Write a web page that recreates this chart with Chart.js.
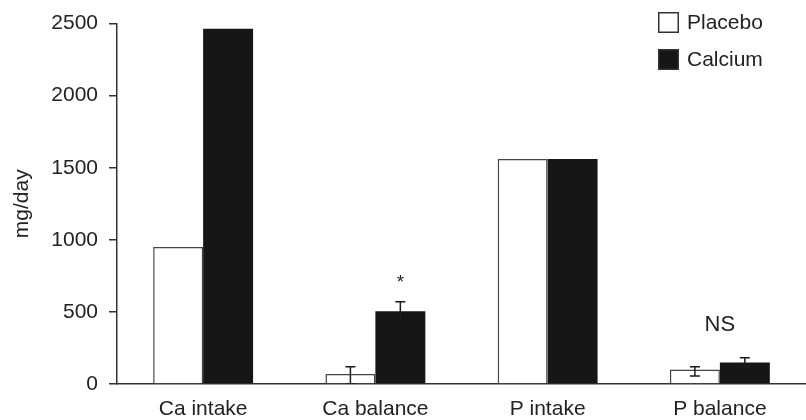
<!DOCTYPE html>
<html>
<head>
<meta charset="utf-8">
<script src="https://cdn.jsdelivr.net/npm/chart.js@4.4.1/dist/chart.umd.min.js"></script>
<style>
  html, body { margin: 0; padding: 0; background: #fff; }
  #wrap { width: 806px; height: 420px; }
</style>
</head>
<body>
<div id="wrap"><canvas id="grafico"></canvas></div>
<script>
// mean intake / balance per group (mg/day)
const categorias = ['Ca intake', 'Ca balance', 'P intake', 'P balance'];
const placebo = [950, 70, 1560, 100];
const calcium = [2465, 505, 1560, 150];

// error bar ends, null where no bar is drawn
const placeboBaixo = [null, 0, null, 55];
const placeboAlto = [null, 120, null, 120];
const calciumBaixo = [null, 440, null, 120];
const calciumAlto = [null, 570, null, 182];

const yTicks = [0, 500, 1000, 1500, 2000, 2500];

// significance marks: text, which bar (or group) it sits over
const marcas = [
    {cat: 1, texto: '*', serie: 1, valor: 705, tamanho: 19},
    {cat: 3, texto: 'NS', serie: null, valor: 410, tamanho: 22}
];

const fonte = '"Liberation Sans", Arial, Helvetica, sans-serif';
const corTexto = '#222';
const corLinha = '#333';

const errorBars = {
    id: 'errorBars',
    afterDatasetsDraw(chart) {
        const ctx = chart.ctx;
        const y = chart.scales.y;
        const ends = [[placeboBaixo, placeboAlto], [calciumBaixo, calciumAlto]];
        ctx.save();
        ctx.beginPath();
        ctx.rect(chart.chartArea.left, chart.chartArea.top, chart.chartArea.width, chart.chartArea.height);
        ctx.clip();
        ctx.strokeStyle = '#1a1a1a';
        ctx.lineWidth = 1.5;
        ends.forEach((par, ds) => {
            const meta = chart.getDatasetMeta(ds);
            meta.data.forEach((bar, i) => {
                if (par[0][i] == null) return;
                const x = bar.x;
                const y0 = y.getPixelForValue(par[0][i]);
                const y1 = y.getPixelForValue(par[1][i]);
                ctx.beginPath();
                ctx.moveTo(x, y0); ctx.lineTo(x, y1);
                ctx.moveTo(x - 5, y1); ctx.lineTo(x + 5, y1);
                ctx.moveTo(x - 5, y0); ctx.lineTo(x + 5, y0);
                ctx.stroke();
            });
        });
        ctx.restore();

        // significance labels
        ctx.save();
        ctx.fillStyle = corTexto;
        ctx.textAlign = 'center';
        ctx.textBaseline = 'middle';
        marcas.forEach(m => {
            let x = chart.scales.x.getPixelForValue(m.cat);
            if (m.serie != null) x = chart.getDatasetMeta(m.serie).data[m.cat].x;
            ctx.font = m.tamanho + 'px ' + fonte;
            ctx.fillText(m.texto, x, y.getPixelForValue(m.valor));
        });
        ctx.restore();
    }
};

const legenda = {
    id: 'legenda',
    afterDraw(chart) {
        const ctx = chart.ctx;
        ctx.save();
        ctx.font = '21px ' + fonte;
        ctx.textBaseline = 'middle';
        chart.data.datasets.forEach((ds, i) => {
            const top = 12 + i * 37;
            ctx.fillStyle = ds.backgroundColor;
            ctx.fillRect(658, top, 21, 21);
            ctx.strokeStyle = corLinha;
            ctx.lineWidth = 1.5;
            ctx.strokeRect(658.75, top + 0.75, 19.5, 19.5);
            ctx.fillStyle = corTexto;
            ctx.fillText(ds.label, 687, top + 11);
        });
        ctx.restore();
    }
};

const data = {
    labels: categorias,
    datasets: [{
        label: 'Placebo',
        data: placebo,
        backgroundColor: '#ffffff',
        borderColor: '#444',
        borderWidth: {top: 1.5, left: 1.5, right: 1.5, bottom: 0},
        borderSkipped: false
    }, {
        label: 'Calcium',
        data: calcium,
        backgroundColor: '#161616',
        borderWidth: 0
    }]
};

const config = {
    type: 'bar',
    data: data,
    options: {
        responsive: true,
        maintainAspectRatio: false,
        animation: false,
        layout: {padding: {top: 23, right: 0, bottom: 0, left: 0}},
        datasets: {bar: {categoryPercentage: 0.58, barPercentage: 1.0}},
        plugins: {
            legend: {display: false},
            tooltip: {enabled: false}
        },
        scales: {
            x: {
                afterFit(scale) { scale.height = 36; },
                grid: {display: false},
                border: {display: true, color: corLinha, width: 1.5},
                ticks: {color: corTexto, font: {family: fonte, size: 21}, padding: 5}
            },
            y: {
                min: 0,
                max: 2500,
                afterBuildTicks(scale) {
                    scale.ticks = yTicks.map(v => ({value: v}));
                },
                afterFit(scale) { scale.width = 117; },
                grid: {display: true, drawOnChartArea: false, tickLength: 8, color: corLinha, lineWidth: 1.5},
                border: {display: true, color: corLinha, width: 1.5},
                ticks: {
                    color: corTexto,
                    font: {family: fonte, size: 21},
                    padding: 11,
                    callback: v => String(v)
                },
                title: {
                    display: true,
                    text: 'mg/day',
                    color: corTexto,
                    font: {family: fonte, size: 21},
                    padding: {top: 10, bottom: 0}
                }
            }
        }
    },
    plugins: [errorBars, legenda]
};

new Chart(document.getElementById('grafico'), config);
</script>
</body>
</html>
